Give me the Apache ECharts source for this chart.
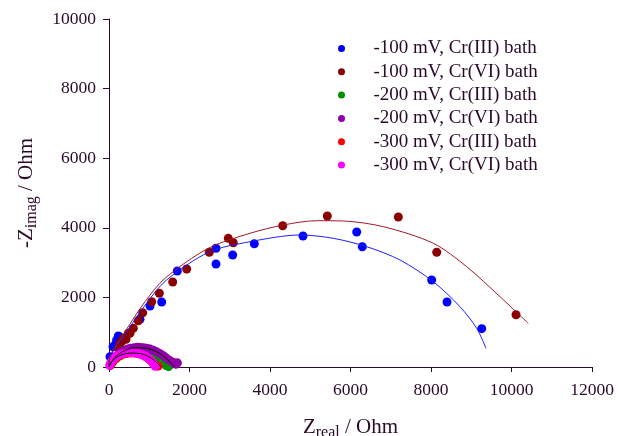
<!DOCTYPE html>
<html>
<head>
<meta charset="utf-8">
<script src="https://cdn.jsdelivr.net/npm/echarts@6/dist/echarts.min.js"></script>
<style>
  html, body { margin: 0; padding: 0; background: #fff; }
  #chart { width: 618px; height: 436px; }
</style>
</head>
<body>
<div id="chart"></div>
<script>
// legend names
var names = ['-100 mV, Cr(III) bath', '-100 mV, Cr(VI) bath', '-200 mV, Cr(III) bath',
  '-200 mV, Cr(VI) bath', '-300 mV, Cr(III) bath', '-300 mV, Cr(VI) bath'];
var colors = ['#0000ff', '#8b0000', '#009000', '#9000a8', '#ff0000', '#ff00ff'];

// measured points [Zreal, -Zimag]
var p100c3 = [[25, 296], [99, 583], [149, 632], [190, 776], [231, 891], [256, 871], [770, 1371],
  [1019, 1753], [1309, 1868], [1697, 2759], [2658, 3411], [2658, 2960], [3073, 3218],
  [3610, 3543], [4820, 3764], [6154, 3879], [6293, 3457], [8017, 2500], [8398, 1868], [9260, 1101]];
var p100c6 = [[120, 250], [231, 537], [273, 681], [315, 728], [356, 825], [422, 796], [480, 968],
  [522, 968], [604, 1112], [728, 1330], [837, 1560], [1061, 1876], [1250, 2118], [1583, 2443],
  [1930, 2816], [2492, 3296], [2964, 3698], [3088, 3572], [4316, 4060], [5424, 4339],
  [7188, 4310], [8142, 3296], [10112, 1503]];
var p200c3 = [[40, 60], [100, 150], [180, 240], [280, 320], [400, 380], [530, 415], [660, 425],
  [790, 415], [910, 385], [1020, 340], [1120, 280], [1210, 215], [1290, 150], [1360, 90],
  [1420, 40], [1480, 10]];
var p200c6 = [[30, 60], [60, 130], [100, 200], [150, 270], [200, 330], [260, 390], [320, 440],
  [390, 480], [460, 515], [540, 540], [620, 555], [700, 565], [780, 562], [860, 555], [940, 540],
  [1020, 515], [1100, 480], [1180, 440], [1260, 390], [1340, 330], [1410, 270], [1480, 210],
  [1550, 160], [1610, 120], [1660, 80], [1700, 120]];
var p300c3 = [[30, 40], [70, 120], [120, 200], [190, 270], [270, 330], [360, 370], [460, 395],
  [560, 405], [660, 398], [760, 375], [850, 335], [930, 285], [1000, 225], [1060, 160],
  [1110, 100], [1160, 50], [1220, 25]];
var p300c6 = [[20, 50], [40, 110], [70, 170], [110, 230], [160, 285], [220, 330], [290, 365],
  [370, 390], [450, 405], [540, 410], [630, 405], [720, 390], [800, 365], [870, 330], [930, 290],
  [990, 240], [1040, 185], [1080, 130], [1120, 70], [1150, 20]];

// fitted curves
var fit100c3 = [[0, 0], [30, 296], [420, 980], [930, 1830], [1420, 2490], [2480, 3300],
  [3503, 3600], [4745, 3793], [5573, 3698], [6402, 3457], [7230, 3075],
  [8057, 2451], [8720, 1733], [9135, 1112], [9367, 537]];
var fit100c6 = [[0, 0], [25, 296], [398, 1014], [894, 1876], [1391, 2549], [2467, 3411],
  [3503, 3842], [4330, 4080], [5160, 4204], [5822, 4195], [6816, 4032], [8057, 3555],
  [8887, 2882], [9714, 2020], [10417, 1256]];
var fitA = [[0, 0], [50, 120], [150, 280], [300, 420], [500, 520], [700, 555], [900, 545],
  [1100, 480], [1300, 360], [1450, 220], [1550, 100], [1620, 0]];
var fitB = [[0, 0], [40, 100], [120, 220], [250, 320], [420, 385], [600, 400], [780, 385],
  [950, 320], [1080, 230], [1180, 130], [1260, 40], [1300, 0]];

var xTicks = [0, 2000, 4000, 6000, 8000, 10000, 12000];
var yTicks = [0, 2000, 4000, 6000, 8000, 10000];

var font = 'Liberation Serif';
var ink = '#2a0a2a';
var points = [p100c3, p100c6, p200c3, p200c6, p300c3, p300c6];

var series = [];
points.forEach(function(d, i) {
  series.push({
    name: names[i], type: 'scatter', data: d, symbolSize: 9,
    itemStyle: { color: colors[i], opacity: 1 }, z: 2 + i
  });
});
function line(d, c) {
  return { type: 'line', data: d, symbol: 'none', smooth: 0.3, silent: true,
    lineStyle: { color: c, width: 1 }, z: 10 };
}
series.push(line(fit100c3, '#2020ff'));
series.push(line(fit100c6, '#a01828'));
series.push(line(fitA, '#000000'));
series.push(line(fitB, '#000000'));

var myChart = echarts.init(document.getElementById('chart'));
myChart.setOption({
  animation: false,
  textStyle: { fontFamily: font },
  grid: { left: 109, right: 26, top: 19, bottom: 69, outerBoundsMode: 'none' },
  legend: {
    data: names, orient: 'vertical', left: 333, top: 34,
    itemWidth: 54, itemHeight: 7, itemGap: 4.3, icon: 'circle',
    textStyle: { fontFamily: font, fontSize: 19, color: ink, lineHeight: 16 }
  },
  xAxis: {
    type: 'value', min: xTicks[0], max: xTicks[xTicks.length - 1], interval: 2000,
    splitLine: { show: false },
    axisLine: { lineStyle: { color: ink, width: 1 } },
    axisTick: { length: 5, lineStyle: { color: ink } },
    axisLabel: { fontFamily: font, fontSize: 17.5, color: ink, margin: 14,
      formatter: function(v) { return String(v); } },
    name: '{a|Z}{b|real}{a| / Ohm}', nameLocation: 'middle', nameGap: 46,
    nameTextStyle: {
      rich: {
        a: { fontFamily: font, fontSize: 21, color: ink },
        b: { fontFamily: font, fontSize: 16, color: ink, padding: [12, 0, 0, 0] }
      }
    }
  },
  yAxis: {
    type: 'value', min: yTicks[0], max: yTicks[yTicks.length - 1], interval: 2000,
    splitLine: { show: false },
    axisLine: { show: true, lineStyle: { color: ink, width: 1 } },
    axisTick: { show: true, length: 6, lineStyle: { color: ink } },
    axisLabel: { fontFamily: font, fontSize: 17.5, color: ink, margin: 13,
      formatter: function(v) { return String(v); } },
    name: '{a|-Z}{b|imag}{a| / Ohm}', nameLocation: 'middle', nameGap: 69, nameRotate: 90,
    nameTextStyle: {
      rich: {
        a: { fontFamily: font, fontSize: 21, color: ink },
        b: { fontFamily: font, fontSize: 16, color: ink, padding: [12, 0, 0, 0] }
      }
    }
  },
  series: series
});
</script>
</body>
</html>
